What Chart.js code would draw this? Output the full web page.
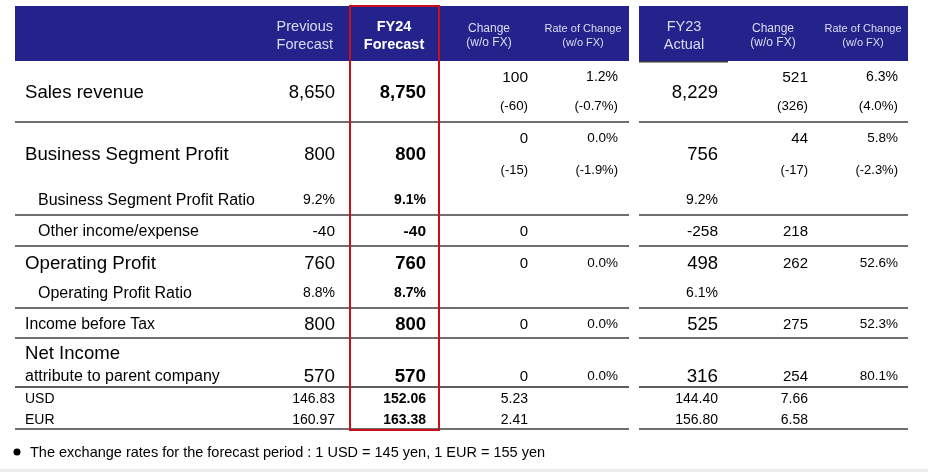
<!DOCTYPE html>
<html>
<head>
<meta charset="utf-8">
<script src="https://cdn.jsdelivr.net/npm/chart.js@4.4.1/dist/chart.umd.min.js"></script>
<style>
  html, body { margin: 0; padding: 0; background: #fff; }
  #wrap { width: 928px; height: 472px; }
</style>
</head>
<body>
<div id="wrap"><canvas id="forecastTable" width="928" height="472"></canvas></div>
<script>
// ---- data ----
const headers = [
    ["Previous", "Forecast"],
    ["FY24", "Forecast"],
    ["Change", "(w/o FX)"],
    ["Rate of Change", "(w/o FX)"],
    ["FY23", "Actual"],
    ["Change", "(w/o FX)"],
    ["Rate of Change", "(w/o FX)"],
];
const rowLabels = [
    "Sales revenue",
    "Business Segment Profit",
    "Business Segment Profit Ratio",
    "Other income/expense",
    "Operating Profit",
    "Operating Profit Ratio",
    "Income before Tax",
    ["Net Income", "attribute to parent company"],
    "USD",
    "EUR",
];
const previousForecast = ["8,650", "800", "9.2%", "-40", "760", "8.8%", "800", "570", "146.83", "160.97"];
const fy24Forecast = ["8,750", "800", "9.1%", "-40", "760", "8.7%", "800", "570", "152.06", "163.38"];
const changeVsPrevious = ["100", "0", "", "0", "0", "", "0", "0", "5.23", "2.41"];
const changeVsPreviousFx = ["(-60)", "(-15)", "", "", "", "", "", "", "", ""];
const rateVsPrevious = ["1.2%", "0.0%", "", "", "0.0%", "", "0.0%", "0.0%", "", ""];
const rateVsPreviousFx = ["(-0.7%)", "(-1.9%)", "", "", "", "", "", "", "", ""];
const fy23Actual = ["8,229", "756", "9.2%", "-258", "498", "6.1%", "525", "316", "144.40", "156.80"];
const changeVsActual = ["521", "44", "", "218", "262", "", "275", "254", "7.66", "6.58"];
const changeVsActualFx = ["(326)", "(-17)", "", "", "", "", "", "", "", ""];
const rateVsActual = ["6.3%", "5.8%", "", "", "52.6%", "", "52.3%", "80.1%", "", ""];
const rateVsActualFx = ["(4.0%)", "(-2.3%)", "", "", "", "", "", "", "", ""];
const footnote = "The exchange rates for the forecast period : 1 USD = 145 yen, 1 EUR = 155 yen";

// ---- layout (scale units = px of the 928x472 page) ----
const FONT = '"Liberation Sans", Arial, sans-serif';
const NAVY = "#23238b";
const TEXT_DY = 1.5;
const headerCols = [
    { x: 333, align: "right", y: [25, 43], size: 14.5, bold: false },
    { x: 394, align: "center", y: [25, 43], size: 14.5, bold: true },
    { x: 489, align: "center", y: [27, 41], size: 12, bold: false },
    { x: 583, align: "center", y: [27, 41], size: 11, bold: false },
    { x: 684, align: "center", y: [25, 43], size: 14.5, bold: false },
    { x: 773, align: "center", y: [27, 41], size: 12, bold: false },
    { x: 863, align: "center", y: [27, 41], size: 11, bold: false },
];
const colX = { label: 25, indent: 38, prev: 335, fy24: 426, chg: 528, rate: 618, act: 718, chg2: 808, rate2: 898 };
// y: row line, up/down: two-line change rows, sizes for label / value / change / rate
const rowLayout = [
    { y: 91, up: 76, down: 105, indent: false, label: 18.6, val: 18.5, chg: 15.5, rate: 14, fx: 13.3 },
    { y: 153, up: 137, down: 169, indent: false, label: 18.6, val: 18.5, chg: 15, rate: 13.5, fx: 13 },
    { y: 199, indent: true, label: 16, val: 14, chg: 14, rate: 13.5 },
    { y: 230, indent: true, label: 16, val: 15.5, chg: 15, rate: 13.5 },
    { y: 262, indent: false, label: 18.7, val: 18.5, chg: 15, rate: 13.5 },
    { y: 292, indent: true, label: 16, val: 14, chg: 14, rate: 13.5 },
    { y: 323, indent: false, label: 15.8, val: 18.5, chg: 15, rate: 13.5 },
    { y: 375, top: 352, indent: false, label: 18.6, sub: 16, val: 18.8, chg: 15, rate: 13.5 },
    { y: 398, indent: false, label: 14, val: 14, chg: 14, rate: 13.5 },
    { y: 419, indent: false, label: 14, val: 14, chg: 14, rate: 13.5 },
];
const rules = [
    { y: 122, color: "#6f6f6f", w: 2 },
    { y: 215, color: "#6f6f6f", w: 2 },
    { y: 246, color: "#6f6f6f", w: 2 },
    { y: 308, color: "#6f6f6f", w: 2 },
    { y: 338, color: "#6f6f6f", w: 2 },
    { y: 387, color: "#2a2a2a", w: 1.5 },
    { y: 429, color: "#6f6f6f", w: 2 },
];
const blocks = [{ x0: 15, x1: 629 }, { x0: 639, x1: 908 }];

const tablePlugin = {
    id: "tablePlugin",
    afterDraw(chart) {
        const { ctx, scales } = chart;
        const X = (v) => scales.x.getPixelForValue(v);
        const Y = (v) => scales.y.getPixelForValue(v);
        const text = (s, x, y, size, bold, align, color) => {
            if (!s) return;
            ctx.font = (bold ? "bold " : "") + size + "px " + FONT;
            ctx.textAlign = align || "right";
            ctx.textBaseline = "middle";
            ctx.fillStyle = color || "#000";
            ctx.fillText(s, X(x), Y(y + TEXT_DY));
        };
        ctx.save();

        // header bands
        ctx.fillStyle = NAVY;
        blocks.forEach((b) => ctx.fillRect(X(b.x0), Y(6), X(b.x1) - X(b.x0), Y(61) - Y(6)));
        headers.forEach((lines, i) => {
            const h = headerCols[i];
            const color = h.bold ? "#ffffff" : "#dcdcf2";
            lines.forEach((l, j) => text(l, h.x, h.y[j], h.size, h.bold, h.align, color));
        });
        // underline below FY23 Actual
        ctx.fillStyle = "#3a3a3a";
        ctx.fillRect(X(639), Y(61), X(728) - X(639), 1.5);

        // horizontal rules
        rules.forEach((r) => {
            ctx.fillStyle = r.color;
            blocks.forEach((b) => ctx.fillRect(X(b.x0), Y(r.y) - r.w / 2, X(b.x1) - X(b.x0), r.w));
        });

        // rows
        rowLabels.forEach((label, i) => {
            const r = rowLayout[i];
            const lx = r.indent ? colX.indent : colX.label;
            if (Array.isArray(label)) {
                text(label[0], lx, r.top, r.label, false, "left");
                text(label[1], lx, r.y, r.sub, false, "left");
            } else {
                text(label, lx, r.y, r.label, false, "left");
            }
            text(previousForecast[i], colX.prev, r.y, r.val, false);
            text(fy24Forecast[i], colX.fy24, r.y, r.val, true);
            text(fy23Actual[i], colX.act, r.y, r.val, false);
            const cy = r.up || r.y;
            text(changeVsPrevious[i], colX.chg, cy, r.chg, false);
            text(rateVsPrevious[i], colX.rate, cy, r.rate, false);
            text(changeVsActual[i], colX.chg2, cy, r.chg, false);
            text(rateVsActual[i], colX.rate2, cy, r.rate, false);
            if (r.down) {
                text(changeVsPreviousFx[i], colX.chg, r.down, r.fx, false);
                text(rateVsPreviousFx[i], colX.rate, r.down, r.fx, false);
                text(changeVsActualFx[i], colX.chg2, r.down, r.fx, false);
                text(rateVsActualFx[i], colX.rate2, r.down, r.fx, false);
            }
        });

        // red frame around FY24 forecast
        ctx.strokeStyle = "#c8101a";
        ctx.lineWidth = 2;
        ctx.strokeRect(X(350), Y(6), X(439) - X(350), Y(430) - Y(6));

        // footnote
        ctx.fillStyle = "#000";
        ctx.beginPath();
        ctx.arc(X(17), Y(452), 3.5, 0, Math.PI * 2);
        ctx.fill();
        text(footnote, 30, 451, 14.5, false, "left");

        // grey strip at the bottom
        ctx.fillStyle = "#ececec";
        ctx.fillRect(X(0), Y(469), X(928) - X(0), Y(472) - Y(469));
        ctx.restore();
    },
};

new Chart(document.getElementById("forecastTable"), {
    type: "scatter",
    data: { datasets: [] },
    options: {
        responsive: false,
        animation: false,
        layout: { padding: 0 },
        plugins: { legend: { display: false }, tooltip: { enabled: false } },
        scales: {
            x: { type: "linear", min: 0, max: 928, display: false },
            y: { type: "linear", min: 0, max: 472, reverse: true, display: false },
        },
    },
    plugins: [tablePlugin],
});
</script>
</body>
</html>
